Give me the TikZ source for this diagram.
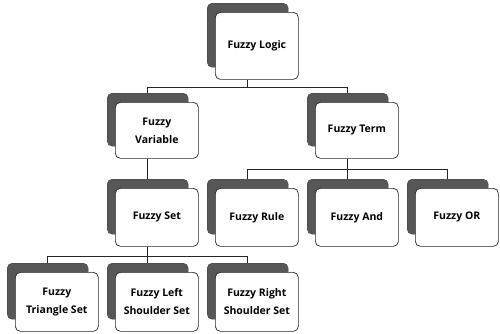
\documentclass[tikz,border=0pt]{standalone}
\usepackage{fontspec}
\setmainfont{Open Sans}
\begin{document}
\begin{tikzpicture}[x=1pt,y=-1pt]
\tikzset{
  shadowbox/.style={draw=black!75, fill=black!66, rounded corners=5pt, minimum width=81pt, inner sep=0pt, anchor=north west},
  frontbox/.style={draw=black!85, line width=0.7pt, fill=white, rounded corners=5pt, minimum width=83pt, inner sep=0pt, anchor=north west, align=center, font=\fontsize{10.5}{18}\selectfont\bfseries},
  link/.style={draw=black!85, line width=0.8pt}
}
\useasboundingbox (0,0) rectangle (500,333);
% name, shadow-left, shadow-top, front-height, shadow-height, text
\newcommand\mybox[6]{%
  \node[shadowbox, minimum height=#5pt] (#1s) at (#2,#3) {};
  \node[frontbox, minimum height=#4pt] (#1) at (#2+8,#3+9) {#6};
}
\mybox{logic}{207}{3}{67}{64}{Fuzzy Logic}
\mybox{var}{107}{93}{56}{53}{Fuzzy\\Variable}
\mybox{term}{307}{93}{56}{53}{Fuzzy Term}
\mybox{set}{107}{179}{58}{55}{Fuzzy Set}
\mybox{rule}{207}{179}{58}{55}{Fuzzy Rule}
\mybox{and}{307}{179}{58}{55}{Fuzzy And}
\mybox{or}{407}{179}{58}{55}{Fuzzy OR}
\mybox{tri}{7}{263}{59}{56}{Fuzzy\\Triangle Set}
\mybox{left}{107}{263}{59}{56}{Fuzzy Left\\Shoulder Set}
\mybox{right}{207}{263}{59}{56}{Fuzzy Right\\Shoulder Set}
\coordinate (busA) at (0,87);
\coordinate (busB) at (0,169);
\coordinate (busC) at (0,256);
% connectors
\draw[link] (logics.center |- logic.south) -- (logics.center |- busA);
\draw[link] (vars.north) -- (vars.north |- busA) -- (terms.north |- busA) -- (terms.north);
\draw[link] (vars.center |- var.south) -- (sets.north);
\draw[link] (terms.center |- term.south) -- (terms.center |- busB);
\draw[link] (rules.north) -- (rules.north |- busB) -- (ors.north |- busB) -- (ors.north);
\draw[link] (ands.north) -- (ands.north |- busB);
\draw[link] (sets.center |- set.south) -- (sets.center |- busC);
\draw[link] (tris.north) -- (tris.north |- busC) -- (rights.north |- busC) -- (rights.north);
\draw[link] (lefts.north) -- (lefts.north |- busC);
\end{tikzpicture}
\end{document}
